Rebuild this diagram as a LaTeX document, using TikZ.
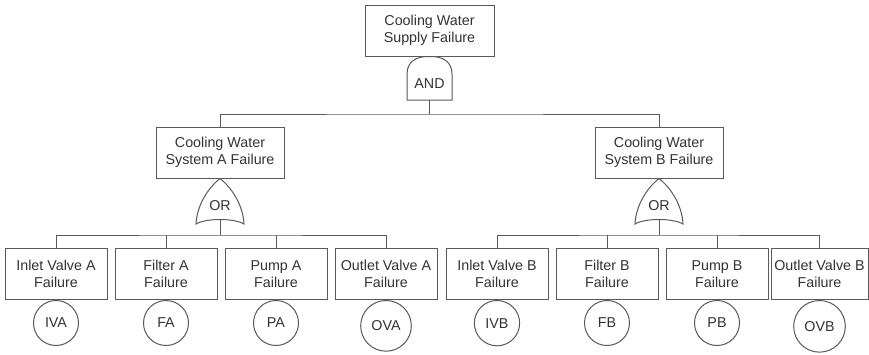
\documentclass[tikz,border=0pt]{standalone}
\usepackage{fontspec}
\setmainfont{Liberation Sans}
\usepackage{tikz}
\usetikzlibrary{positioning}

\begin{document}
\begin{tikzpicture}[x=1pt,y=-1pt,font=\fontsize{14.3pt}{17pt}\selectfont,
  event/.style={rectangle,fill=white,draw=black!65,text=black!80,line width=1pt,minimum height=51pt,inner sep=0pt,align=center},
  basic/.style={circle,fill=white,draw=black!65,text=black!80,line width=1pt,minimum size=45pt,inner sep=7.5pt},
  gate/.style={fill=white,draw=black!65,line width=1pt},
  wire/.style={draw=black!65,line width=1pt}]
\useasboundingbox (0,0) rectangle (869,354);
% top event and AND gate
\node[event,minimum width=129pt] (top) at (429.5,30.5) {Cooling Water\\Supply Failure};
\draw[gate] (407,100) -- (407,74) .. controls (407,62) and (416,56) .. (top.south) .. controls (443,56) and (452,62) .. (452,74) -- (452,100) -- cycle;
\node[text=black!80,inner sep=0pt] (andg) at (429.5,84) {AND};
\coordinate (andout) at (429.5,100);
% system events
\node[event,minimum width=128pt] (sysA) at (220,152.5) {Cooling Water\\System A Failure};
\node[event,minimum width=128pt] (sysB) at (659,152.5) {Cooling Water\\System B Failure};
\draw[wire] (andout) -- ++(0,14) coordinate (andbus);
\draw[wire] (sysA.north) |- (andbus) -| (sysB.north);
% OR gates
\draw[gate] (196,224) .. controls (197,205) and (208,188) .. (sysA.south) .. controls (232,188) and (243,205) .. (244,224) .. controls (234,218) and (206,218) .. cycle;
\node[text=black!80,inner sep=0pt] (orA) at (220,206) {OR};
\coordinate (orAout) at (220,219.5);
\draw[gate] (635,224) .. controls (636,205) and (647,188) .. (sysB.south) .. controls (671,188) and (682,205) .. (683,224) .. controls (673,218) and (645,218) .. cycle;
\node[text=black!80,inner sep=0pt] (orB) at (659,206) {OR};
\coordinate (orBout) at (659,219.5);
% basic events, system A
\node[event,minimum width=102pt] (inletA) at (56,274) {Inlet Valve A\\Failure};
\node[event,minimum width=102pt,right=7pt of inletA] (filterA) {Filter A\\Failure};
\node[event,minimum width=102pt,right=7pt of filterA] (pumpA) {Pump A\\Failure};
\node[event,minimum width=102pt,right=7pt of pumpA] (outletA) {Outlet Valve A\\Failure};
\node[basic,below=0pt of inletA] (iva) {IVA};
\node[basic,below=0pt of filterA] (fa) {FA};
\node[basic,below=0pt of pumpA] (pa) {PA};
\node[basic,below=0pt of outletA] (ova) {OVA};
% basic events, system B
\node[event,minimum width=102pt] (inletB) at (497,274) {Inlet Valve B\\Failure};
\node[event,minimum width=102pt,right=7pt of inletB] (filterB) {Filter B\\Failure};
\node[event,minimum width=102pt,right=7pt of filterB] (pumpB) {Pump B\\Failure};
\node[event,minimum width=97pt] (outletB) at (819.5,274) {Outlet Valve B\\Failure};
\node[basic,below=0pt of inletB] (ivb) {IVB};
\node[basic,below=0pt of filterB] (fb) {FB};
\node[basic,below=0pt of pumpB] (pb) {PB};
\node[basic,below=0pt of outletB] (ovb) {OVB};
% OR gate buses
\draw[wire] (orAout) -- ++(0,15.5) coordinate (busA);
\draw[wire] (inletA.north) |- (busA) -| (outletA.north);
\draw[wire] (filterA.north) -- (filterA.north |- busA);
\draw[wire] (pumpA.north) -- (pumpA.north |- busA);
\draw[wire] (orBout) -- ++(0,15.5) coordinate (busB);
\draw[wire] (inletB.north) |- (busB) -| (outletB.north);
\draw[wire] (filterB.north) -- (filterB.north |- busB);
\draw[wire] (pumpB.north) -- (pumpB.north |- busB);
\end{tikzpicture}
\end{document}
